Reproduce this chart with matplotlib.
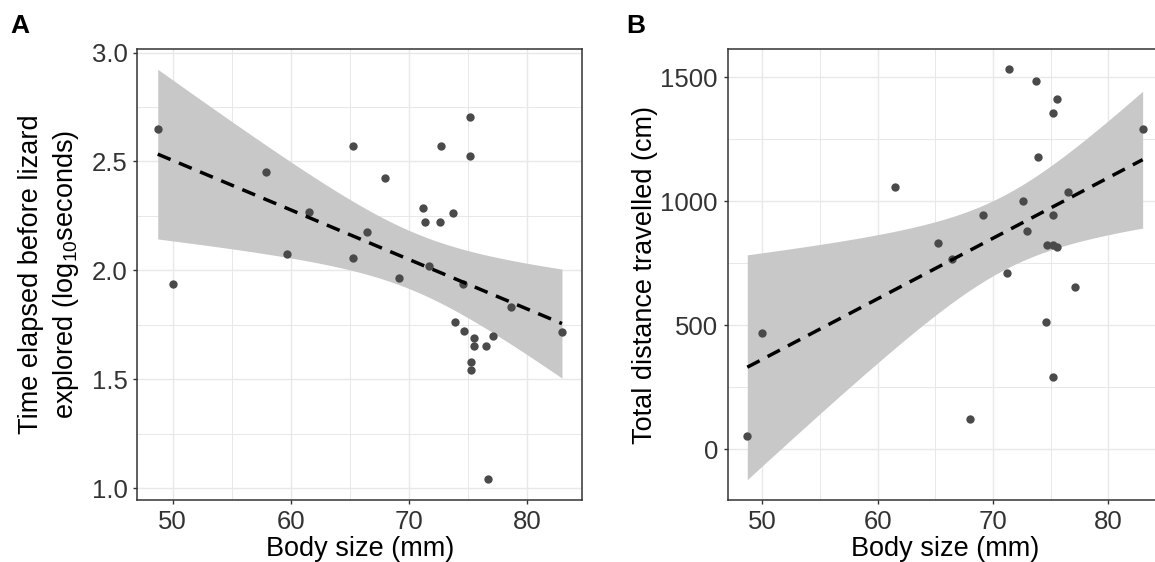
import numpy as np
import matplotlib
matplotlib.use("Agg")
import matplotlib.pyplot as plt
from matplotlib.ticker import MultipleLocator

plt.rcParams['font.family'] = ['Liberation Sans', 'DejaVu Sans']
plt.rcParams['mathtext.fontset'] = 'custom'
plt.rcParams['mathtext.rm'] = 'Liberation Sans'
plt.rcParams['mathtext.it'] = 'Liberation Sans'

############################
# DATA
############################
# Panel A: latency to explore (log10 s) vs body size
body_A = [48.73, 50.03, 57.92, 59.69, 61.52, 65.21, 65.21, 66.45, 67.97, 69.13,
          71.18, 71.32, 71.72, 72.62, 72.68, 73.69, 73.89, 74.54, 74.68, 75.15,
          75.15, 75.21, 75.21, 75.49, 75.49, 76.51, 76.68, 77.13, 78.62, 82.93]
time_A = [2.651, 1.938, 2.452, 2.076, 2.269, 2.573, 2.056, 2.178, 2.425, 1.963,
          2.287, 2.220, 2.019, 2.224, 2.570, 2.264, 1.762, 1.938, 1.724, 2.706,
          2.527, 1.581, 1.543, 1.690, 1.653, 1.653, 1.041, 1.699, 1.834, 1.715]

# Panel B: total distance travelled (cm) vs body size
body_B = [48.70, 50.00, 61.50, 65.23, 66.47, 67.98, 69.16, 71.18, 71.39, 72.63,
          72.95, 73.73, 73.90, 74.62, 74.65, 75.17, 75.17, 75.23, 75.23, 75.52,
          75.52, 76.53, 77.14, 82.98]
dist_B = [56, 468, 1056, 831, 766, 121, 943, 710, 1532, 1000,
          879, 1485, 1177, 515, 823, 823, 290, 1355, 943, 1411,
          815, 1039, 653, 1290]

x_ticks = [50, 60, 70, 80]
y_ticks_A = [1.0, 1.5, 2.0, 2.5, 3.0]
y_ticks_B = [0, 500, 1000, 1500]

# t quantiles (0.975) for n-2 degrees of freedom
T_CRIT_A = 2.048   # df = 28
T_CRIT_B = 2.074   # df = 22

W, H = 1155, 562
POINT_COL = "#4a4a4a"
RIBBON_COL = "#c8c8c8"
GRID_COL = "#e8e8e8"
FRAME_COL = "#333333"
TICK_FS = 18.5
LABEL_FS = 19.5


def lm_fit(x, y, tcrit, n=80):
    """Linear fit with 95% confidence band (same as geom_smooth(method='lm'))."""
    x = np.asarray(x, float)
    y = np.asarray(y, float)
    b1, b0 = np.polyfit(x, y, 1)
    resid = y - (b0 + b1 * x)
    s = np.sqrt(np.sum(resid ** 2) / (len(x) - 2))
    xs = np.linspace(x.min(), x.max(), n)
    se = s * np.sqrt(1 / len(x) + (xs - x.mean()) ** 2 / np.sum((x - x.mean()) ** 2))
    yhat = b0 + b1 * xs
    return xs, yhat, yhat - tcrit * se, yhat + tcrit * se


def style_axes(ax):
    ax.set_facecolor("white")
    for sp in ax.spines.values():
        sp.set_color(FRAME_COL)
        sp.set_linewidth(1.1)
    ax.grid(True, which="major", color=GRID_COL, linewidth=1.0, zorder=0)
    ax.grid(True, which="minor", color=GRID_COL, linewidth=0.7, zorder=0)
    ax.tick_params(which="major", direction="out", length=3, width=1.0,
                   color=FRAME_COL, labelsize=TICK_FS, labelcolor="#333333", pad=4)
    ax.tick_params(which="minor", length=0)
    ax.set_axisbelow(True)


def draw_panel(ax, x, y, tcrit):
    xs, yhat, lo, hi = lm_fit(x, y, tcrit)
    ax.fill_between(xs, lo, hi, color=RIBBON_COL, linewidth=0, zorder=1)
    ax.scatter(x, y, s=36, color=POINT_COL, linewidths=0, zorder=2)
    ax.plot(xs, yhat, color="black", linewidth=2.5, linestyle=(0, (4, 2.6)), zorder=3)


fig = plt.figure(figsize=(W / 100, H / 100), dpi=100)

# Panel A
axA = fig.add_axes([137.3 / W, 1 - 500 / H, 445 / W, 450.7 / H])
style_axes(axA)
draw_panel(axA, body_A, time_A, T_CRIT_A)
axA.set_xlim(47.0, 84.65)
axA.set_ylim(0.946, 3.015)
axA.set_xticks(x_ticks)
axA.set_yticks(y_ticks_A)
axA.xaxis.set_minor_locator(MultipleLocator(5))
axA.yaxis.set_minor_locator(MultipleLocator(0.25))
axA.set_yticklabels([f"{v:.1f}" for v in y_ticks_A])
axA.set_xlabel("Body size (mm)", fontsize=LABEL_FS, labelpad=2)
axA.set_ylabel("Time elapsed before lizard\nexplored (log$_{10}$seconds)",
               fontsize=LABEL_FS, labelpad=8, linespacing=1.3)

# Panel B
axB = fig.add_axes([727.7 / W, 1 - 500 / H, 434.2 / W, 450.7 / H])
style_axes(axB)
draw_panel(axB, body_B, dist_B, T_CRIT_B)
axB.set_xlim(47.0, 84.65)
axB.set_ylim(-204, 1613)
axB.set_xticks(x_ticks)
axB.set_yticks(y_ticks_B)
axB.xaxis.set_minor_locator(MultipleLocator(5))
axB.yaxis.set_minor_locator(MultipleLocator(250))
axB.set_xlabel("Body size (mm)", fontsize=LABEL_FS, labelpad=2)
axB.set_ylabel("Total distance travelled (cm)", fontsize=LABEL_FS, labelpad=2)

fig.text(10 / W, 1 - 33 / H, "A", fontsize=19, fontweight="bold", ha="left", va="baseline")
fig.text(626 / W, 1 - 33 / H, "B", fontsize=19, fontweight="bold", ha="left", va="baseline")

fig.savefig("out.png", dpi=100, facecolor="white")
